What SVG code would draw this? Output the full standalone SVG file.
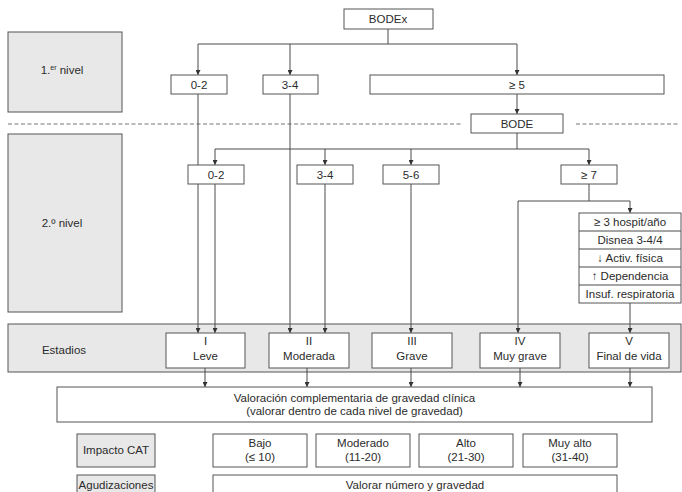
<svg xmlns="http://www.w3.org/2000/svg" width="682" height="492" viewBox="0 0 682 492">
<style>
text{font-family:"Liberation Sans",Arial,sans-serif;font-size:11.5px;fill:#2b2b2b;text-anchor:middle}
.b{fill:#fff;stroke:#555;stroke-width:1}
.g{fill:#e8e8e8;stroke:#555;stroke-width:1}
.c{fill:none;stroke:#4a4a4a;stroke-width:1}
.a{marker-end:url(#ar)}
.d{fill:none;stroke:#777;stroke-width:1;stroke-dasharray:4 2.5}
</style>
<defs>
<marker id="ar" viewBox="0 0 6 6" markerWidth="5" markerHeight="5" refX="6" refY="3" orient="auto" markerUnits="userSpaceOnUse">
<path d="M0,0 L6,3 L0,6 z" fill="#333"/>
</marker>
</defs>
<rect width="682" height="492" fill="#fff"/>

<g id="nivel1"><rect class="g" x="8" y="32" width="114" height="80"/><text x="62" y="74">1.<tspan font-size="7" dy="-4">er</tspan><tspan dy="4"> nivel</tspan></text></g>
<g id="nivel2"><rect class="g" x="8" y="134" width="114" height="178"/><text x="62" y="227">2.º nivel</text></g>
<g id="estadios-band"><rect class="g" x="8" y="324" width="673" height="48"/><text x="64" y="354">Estadios</text></g>

<g id="connectors">
<line class="d" x1="8" y1="124" x2="463" y2="124"/>
<line class="d" x1="576" y1="124" x2="678" y2="124"/>
<path class="c" d="M388,29 V44 M198,44 H517"/>
<path class="c a" d="M198,44 V75"/>
<path class="c a" d="M290,44 V75"/>
<path class="c a" d="M517,44 V75"/>
<path class="c a" d="M517,94 V114"/>
<path class="c" d="M517,133 V149 M215,149 H589"/>
<path class="c a" d="M215,149 V165"/>
<path class="c a" d="M325,149 V165"/>
<path class="c a" d="M411,149 V165"/>
<path class="c a" d="M589,149 V165"/>
<path class="c a" d="M198,94 V333"/>
<path class="c a" d="M290,94 V333"/>
<path class="c a" d="M215,184 V333"/>
<path class="c a" d="M325,184 V333"/>
<path class="c a" d="M411,184 V333"/>
<path class="c" d="M589,184 V201 M518,201 H630"/>
<path class="c a" d="M518,201 V333"/>
<path class="c a" d="M630,201 V213"/>
<path class="c a" d="M630,303 V333"/>
<path class="c a" d="M205,368 V387"/>
<path class="c a" d="M307,368 V387"/>
<path class="c a" d="M411,368 V387"/>
<path class="c a" d="M520,368 V387"/>
<path class="c a" d="M630,368 V387"/>
</g>

<g id="bodex"><rect class="b" x="344" y="9" width="89" height="20"/><text x="388" y="23">BODEx</text></g>
<g id="l1-02"><rect class="b" x="171" y="75" width="56" height="19"/><text x="199" y="89">0-2</text></g>
<g id="l1-34"><rect class="b" x="263" y="75" width="55" height="19"/><text x="290" y="89">3-4</text></g>
<g id="l1-5"><rect class="b" x="370" y="75" width="294" height="19"/><text x="517" y="89">≥ 5</text></g>
<g id="bode"><rect class="b" x="471" y="114" width="92" height="19"/><text x="517" y="128">BODE</text></g>
<g id="l2-02"><rect class="b" x="188" y="165" width="56" height="19"/><text x="216" y="179">0-2</text></g>
<g id="l2-34"><rect class="b" x="297" y="165" width="56" height="19"/><text x="325" y="179">3-4</text></g>
<g id="l2-56"><rect class="b" x="383" y="165" width="56" height="19"/><text x="411" y="179">5-6</text></g>
<g id="l2-7"><rect class="b" x="561" y="165" width="56" height="19"/><text x="589" y="179">≥ 7</text></g>

<g id="criterios">
<rect class="b" x="579" y="213" width="102" height="90"/>
<path class="c" d="M579,231 H681 M579,249 H681 M579,267 H681 M579,285 H681"/>
<text x="630" y="226">≥ 3 hospit/año</text>
<text x="630" y="244">Disnea 3-4/4</text>
<text x="630" y="262">↓ Activ. física</text>
<text x="630" y="280">↑ Dependencia</text>
<text x="630" y="298" font-size="11">Insuf. respiratoria</text>
</g>

<g id="estadio-I"><rect class="b" x="166" y="333" width="79" height="35"/><text x="205.5" y="345">I</text><text x="205.5" y="360">Leve</text></g>
<g id="estadio-II"><rect class="b" x="269" y="333" width="80" height="35"/><text x="309" y="345">II</text><text x="309" y="360">Moderada</text></g>
<g id="estadio-III"><rect class="b" x="372" y="333" width="80" height="35"/><text x="412" y="345">III</text><text x="412" y="360">Grave</text></g>
<g id="estadio-IV"><rect class="b" x="480" y="333" width="80" height="35"/><text x="520" y="345">IV</text><text x="520" y="360">Muy grave</text></g>
<g id="estadio-V"><rect class="b" x="589" y="333" width="80" height="35"/><text x="629" y="345">V</text><text x="629" y="360">Final de vida</text></g>

<g id="valoracion"><rect class="b" x="57" y="387" width="595" height="35"/><text x="354.5" y="402">Valoración complementaria de gravedad clínica</text><text x="354.5" y="415">(valorar dentro de cada nivel de gravedad)</text></g>

<g id="impacto-cat"><rect class="g" x="77" y="434" width="78" height="33"/><text x="116" y="454">Impacto CAT</text></g>
<g id="cat-bajo"><rect class="b" x="213" y="434" width="94" height="33"/><text x="260" y="447">Bajo</text><text x="260" y="461">(≤ 10)</text></g>
<g id="cat-moderado"><rect class="b" x="316" y="434" width="94" height="33"/><text x="363" y="447">Moderado</text><text x="363" y="461">(11-20)</text></g>
<g id="cat-alto"><rect class="b" x="419" y="434" width="94" height="33"/><text x="466" y="447">Alto</text><text x="466" y="461">(21-30)</text></g>
<g id="cat-muyalto"><rect class="b" x="523" y="434" width="94" height="33"/><text x="570" y="447">Muy alto</text><text x="570" y="461">(31-40)</text></g>

<g id="agudizaciones"><rect class="g" x="77" y="475" width="78" height="24"/><text x="116" y="489" font-size="10.6">Agudizaciones</text></g>
<g id="valorar"><rect class="b" x="213" y="475" width="404" height="24"/><text x="415" y="489">Valorar número y gravedad</text></g>
</svg>
